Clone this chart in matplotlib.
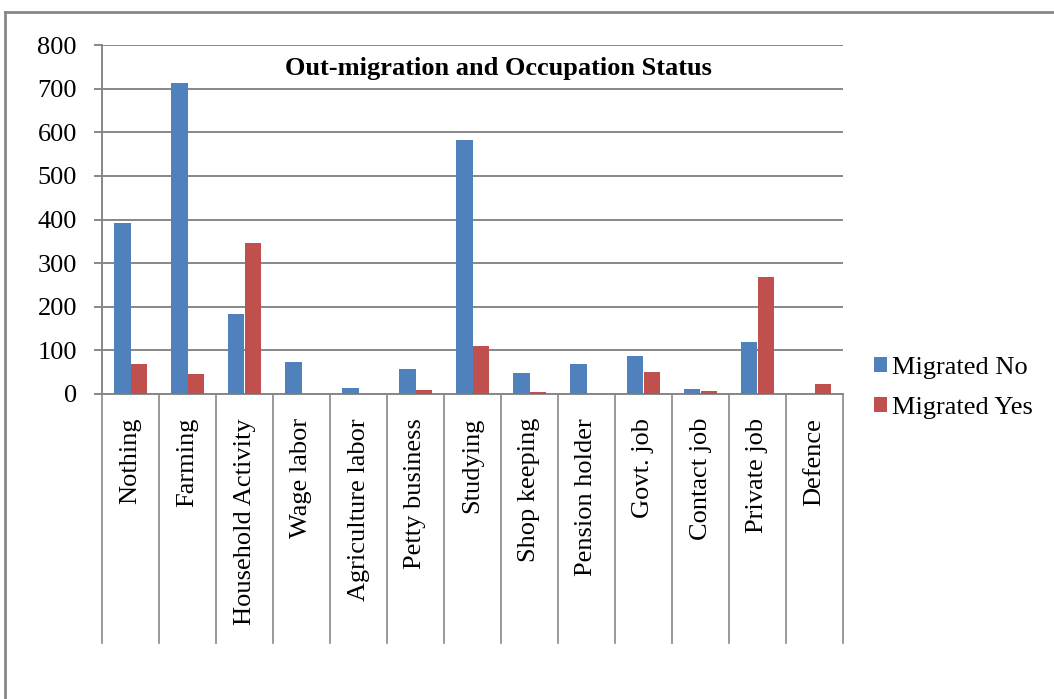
import matplotlib as mpl
import matplotlib.pyplot as plt
import numpy as np
from matplotlib.lines import Line2D
from matplotlib.transforms import blended_transform_factory

mpl.rcParams.update({
    "font.family": ["Liberation Serif", "DejaVu Serif"],
    "font.size": 19,
})

occupations = ["Nothing", "Farming", "Household Activity", "Wage labor",
               "Agriculture labor", "Petty business", "Studying",
               "Shop keeping", "Pension holder", "Govt. job", "Contact job",
               "Private job", "Defence"]
migrated_no = [391, 713, 183, 73, 13, 57, 583, 47, 68, 87, 11, 119, 0]
migrated_yes = [69, 45, 347, 0, 0, 9, 111, 4, 0, 50, 7, 269, 24]

BLUE = "#4F81BD"
RED = "#C0504D"
GRID = "#878787"

W, H = 1054, 699
fig = plt.figure(figsize=(W / 100, H / 100), dpi=100)
ax = fig.add_axes([102 / W, 1 - 394 / H, 741 / W, 349 / H])

x = np.arange(len(occupations))
bw = 0.286
ax.bar(x - bw / 2, migrated_no, bw, color=BLUE, label="Migrated No", zorder=3)
ax.bar(x + bw / 2, migrated_yes, bw, color=RED, label="Migrated Yes", zorder=3)

ax.set_xlim(-0.5, len(occupations) - 0.5)
ax.set_ylim(0, 800)
ax.set_yticks(range(0, 801, 100))
ax.yaxis.grid(True, color=GRID, linewidth=1.4, zorder=0)
ax.tick_params(axis="y", length=6, width=1.4, color=GRID, pad=12)
ax.set_xticks([])
for side in ("top", "right"):
    ax.spines[side].set_visible(False)
for side in ("left", "bottom"):
    ax.spines[side].set_color(GRID)
    ax.spines[side].set_linewidth(1.4)

# category dividers hanging below the axis
trans = blended_transform_factory(ax.transData, ax.transAxes)
drop = -(643 - 394) / 349
for b in np.arange(len(occupations) + 1) - 0.5:
    ax.plot([b, b], [0, drop], transform=trans, color=GRID, linewidth=1.2,
            clip_on=False, zorder=1)
for i, name in enumerate(occupations):
    ax.text(i, -24 / 349, name, transform=trans, rotation=90,
            ha="center", va="top")

fig.text(498 / W, 1 - 68 / H, "Out-migration and Occupation Status",
         ha="center", va="center", fontweight="bold")

fig.legend(loc="center left", bbox_to_anchor=(874 / W, 1 - 388 / H),
           frameon=False, handlelength=0.5, handleheight=0.5,
           handletextpad=0.2, labelspacing=0.7, borderpad=0,
           borderaxespad=0)

# outer chart frame (top and left edges visible)
fig.add_artist(Line2D([5 / W, 1], [1 - 12 / H, 1 - 12 / H],
                      transform=fig.transFigure, color=GRID, linewidth=2))
fig.add_artist(Line2D([5 / W, 5 / W], [0, 1 - 12 / H],
                      transform=fig.transFigure, color=GRID, linewidth=2))

fig.savefig("out.png", dpi=100)
